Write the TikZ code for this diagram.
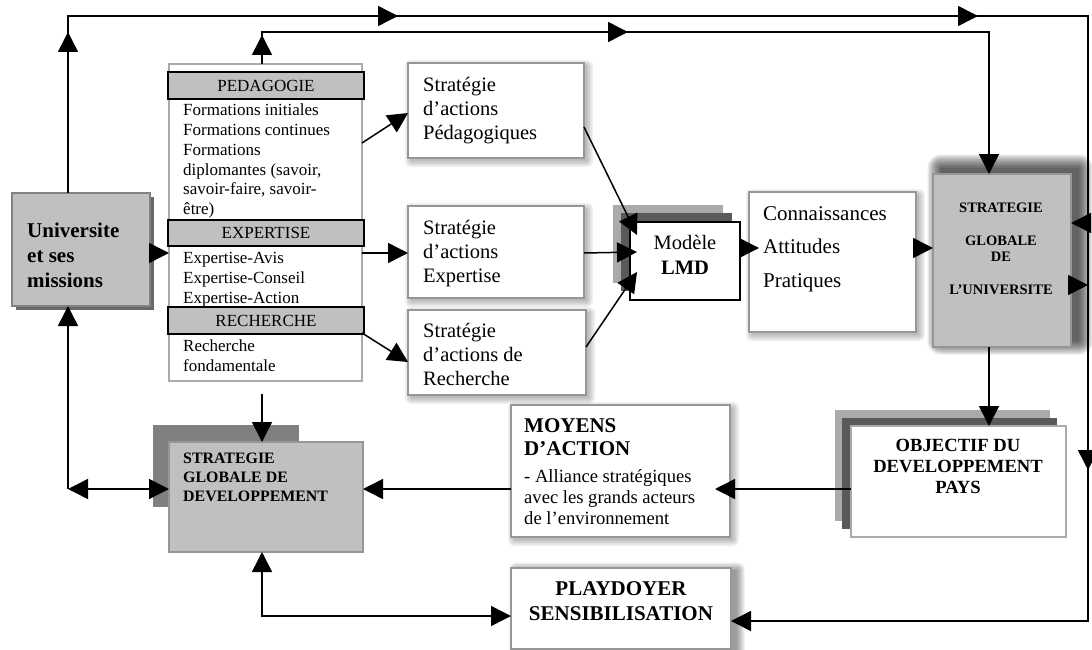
\documentclass[tikz,border=0pt]{standalone}
\usepackage{fontspec}
\setmainfont{Liberation Serif}
\usetikzlibrary{arrows.meta,calc,backgrounds,decorations.markings}
\definecolor{boxgray}{RGB}{192,192,192}
\definecolor{edgegray}{RGB}{150,150,150}
\definecolor{univedge}{RGB}{130,130,130}
\definecolor{lightsh}{RGB}{170,170,170}
\definecolor{darksh}{RGB}{90,90,90}
\definecolor{midsh}{RGB}{128,128,128}
\newcommand{\linesl}[1]{\begin{tabular}[t]{@{}l@{}}#1\end{tabular}}
\newcommand{\linesc}[1]{\begin{tabular}[t]{@{}c@{}}#1\end{tabular}}
\newcommand{\fs}[2]{\fontsize{#1}{#2}\selectfont}
\newcommand{\softshadow}[5]{% node, dx, dy, opacity, max spread
  \foreach \e in {0,1.5,...,#5}{
    \fill[black, opacity=#4, rounded corners=\e pt]
      ($(#1.north west)+(#2-\e,#3-\e)$) rectangle ($(#1.south east)+(#2+\e,#3+\e)$);
  }}
\begin{document}
\begin{tikzpicture}[x=1pt,y=-1pt,
  >={Triangle[length=20pt,width=20pt]},
  conn/.style={line width=1.5pt, draw=black},
  box/.style={draw=edgegray, line width=1.5pt, fill=white, inner sep=0pt, outer sep=0pt},
  graybox/.style={box, fill=boxgray},
  head/.style={draw=black, line width=2pt, fill=boxgray, inner sep=0pt, outer sep=0pt,
    minimum width=196pt, minimum height=27pt, font=\fs{17}{20}},
  txt/.style={inner sep=0pt, anchor=base west},
  txtc/.style={inner sep=0pt, anchor=base},
  midarrows/.style={postaction={decorate}, decoration={markings, #1}},
]
\useasboundingbox (0,0) rectangle (1092,650);

% solid shadow layers
\fill[lightsh] (613,205) rectangle (723,283);
\fill[darksh] (621,213) rectangle (732,291);
\fill[lightsh] (835,410) rectangle (1050,521);
\fill[darksh] (842,418) rectangle (1057,529);
\fill[midsh] (153,425) rectangle (299,507);
\fill[univedge!80!black] (16,197) rectangle (154,310);

% boxes
\node[graybox, draw=univedge, line width=2pt, minimum width=138pt, minimum height=113pt] (Univ) at (81,249.5) {};
\node[txt, font=\fs{21}{25}\bfseries] (UnivT) at (27,237) {\linesl{Universite\\et ses\\missions}};

\node[box, draw=lightsh, minimum width=193pt, minimum height=317pt] (lst) at (265.5,222.5) {};
\node[head] (hPed) at (266,85.5) {PEDAGOGIE};
\node[head, minimum height=26pt] (hExp) at (266,233) {EXPERTISE};
\node[head] (hRech) at (266,320.5) {RECHERCHE};
\node[txt, font=\fs{17}{19.7}] (lPed) at (183,116) {\linesl{Formations initiales\\Formations continues\\Formations\\diplomantes (savoir,\\savoir-faire, savoir-\\être)}};
\node[txt, font=\fs{17}{20}] (lExp) at (183,263) {\linesl{Expertise-Avis\\Expertise-Conseil\\Expertise-Action}};
\node[txt, font=\fs{17}{20}] (lRech) at (183,351) {\linesl{Recherche\\fondamentale}};

\node[box, minimum width=176pt, minimum height=95pt] (sPed) at (496,110.5) {};
\node[txt, font=\fs{20.5}{24}] (sPedT) at (423,92) {\linesl{Stratégie\\d’actions\\Pédagogiques}};
\node[box, minimum width=176pt, minimum height=92pt] (sExp) at (496,252) {};
\node[txt, font=\fs{20.5}{24}] (sExpT) at (423,234) {\linesl{Stratégie\\d’actions\\Expertise}};
\node[box, minimum width=178pt, minimum height=85pt] (sRech) at (497,352.5) {};
\node[txt, font=\fs{20.5}{24}] (sRechT) at (423,337) {\linesl{Stratégie\\d’actions de\\Recherche}};

\node[box, draw=black, minimum width=110pt, minimum height=78pt] (LMD) at (685,261) {};
\node[txtc, font=\fs{20.5}{25}] (LMDT) at (685,249) {\linesc{Modèle\\\textbf{LMD}}};

\node[box, minimum width=167pt, minimum height=140pt] (Conn) at (832.5,262) {};
\node[txt, font=\fs{21}{33.5}] (ConnT) at (763,220) {\linesl{Connaissances\\Attitudes\\Pratiques}};

\node[graybox, minimum width=138pt, minimum height=173pt] (SGU) at (1002,260.5) {};
\node[txtc, font=\fs{14.5}{16.5}\bfseries] (SGUT) at (1001,212) {\linesc{STRATEGIE\\ \\GLOBALE\\DE\\ \\L’UNIVERSITE}};

\node[box, draw=lightsh, minimum width=215pt, minimum height=111pt] (OBJ) at (958.5,481.5) {};
\node[txtc, font=\fs{18.6}{21}\bfseries] (OBJT) at (958,451) {\linesc{OBJECTIF DU\\DEVELOPPEMENT\\PAYS}};

\node[box, minimum width=219pt, minimum height=132pt] (MOY) at (620.5,471) {};
\node[txt, font=\fs{21}{23}\bfseries] (MOYT1) at (524,432) {\linesl{MOYENS\\D’ACTION}};
\node[txt, font=\fs{18.6}{21}] (MOYT2) at (524,482) {\linesl{- Alliance stratégiques\\avec les grands acteurs\\de l’environnement}};

\node[box, minimum width=220pt, minimum height=81pt] (PLAY) at (621,608.5) {};
\node[txtc, font=\fs{21}{25}\bfseries] (PLAYT) at (621,595) {\linesc{PLAYDOYER\\SENSIBILISATION}};

\node[graybox, minimum width=194pt, minimum height=110pt] (SGD) at (266,497) {};
\node[txt, font=\fs{15.9}{19}\bfseries] (SGDT) at (183,463) {\linesl{STRATEGIE\\GLOBALE DE\\DEVELOPPEMENT}};

% soft shadows
\begin{scope}[on background layer]
  \softshadow{sPed}{3}{3}{0.06}{6}
  \softshadow{sExp}{3}{3}{0.06}{6}
  \softshadow{sRech}{3}{3}{0.06}{6}
  \softshadow{Conn}{3}{3}{0.06}{6}
  \softshadow{MOY}{3}{3}{0.06}{6}
  \softshadow{PLAY}{6}{2}{0.08}{7.5}
  \softshadow{SGU}{8}{-6}{0.09}{13.5}
\end{scope}

% coordinates
\coordinate (tl) at (68,16);
\coordinate (tr) at (1088,16);
\coordinate (ml) at (262,32);
\coordinate (mr) at (989,32);
\coordinate (rb) at (1088,621);
\coordinate (cl) at (68,489);
\coordinate (gapS) at (262,394);
\coordinate (bl) at (262,616);
\coordinate (lmdA) at (637,235);
\coordinate (lmdB) at (637,252);
\coordinate (lmdC) at (637,272);
\coordinate (connIn) at (759,248);
\coordinate (moyIn) at (715,489);

% connectors
\draw[conn, ->, midarrows={mark=at position 161pt with {\arrow{>}}, mark=at position 507pt with {\arrow{>}}, mark=at position 1087pt with {\arrow{>}}}]
  (Univ.north -| tl) -- (tl) -- (tr) -- (tr |- 0,223) -- (SGU.east |- 0,223);
\draw[conn, ->, midarrows={mark=at position 29pt with {\arrow{>}}, mark=at position 398pt with {\arrow{>}}}]
  (lst.north -| ml) -- (ml) -- (mr) -- (SGU.north -| mr);
\draw[conn,->] (Univ.east |- 0,253) -- (lst.west |- 0,253);
\draw[conn,->] (lst.east |- 0,143) -- (sPed.west |- 0,113);
\draw[conn,->] (lst.east |- 0,253) -- (sExp.west |- 0,253);
\draw[conn,->] (lst.east |- 0,333) -- (sRech.west |- 0,362);
\draw[conn,->] (sPed.east |- 0,127) -- (lmdA);
\draw[conn,->] (sExp.east |- 0,253) -- (lmdB);
\draw[conn,->] (sRech.east |- 0,347) -- (lmdC);
\draw[conn,->] (LMD.east |- 0,248) -- (connIn);
\draw[conn,->] (Conn.east |- 0,248) -- (SGU.west |- 0,248);
\draw[conn,->] (SGU.east |- 0,285) -- (tr |- 0,285);
\draw[conn,->, midarrows={mark=at position 247pt with {\arrow{>}}}]
  (tr |- 0,223) -- (rb) -- (PLAY.east |- rb);
\draw[conn,->] (SGU.south -| mr) -- (OBJ.north -| mr);
\draw[conn,->] (OBJ.west |- moyIn) -- (moyIn);
\draw[conn,->] (MOY.west |- 0,489) -- (SGD.east |- 0,489);
\draw[conn,->] (gapS) -- (SGD.north -| gapS);
\draw[conn,<->] (SGD.west |- cl) -- (cl);
\draw[conn,->] (cl) -- (Univ.south -| cl);
\draw[conn,<->] (SGD.south -| bl) -- (bl) -- (PLAY.west |- bl);
\end{tikzpicture}
\end{document}
